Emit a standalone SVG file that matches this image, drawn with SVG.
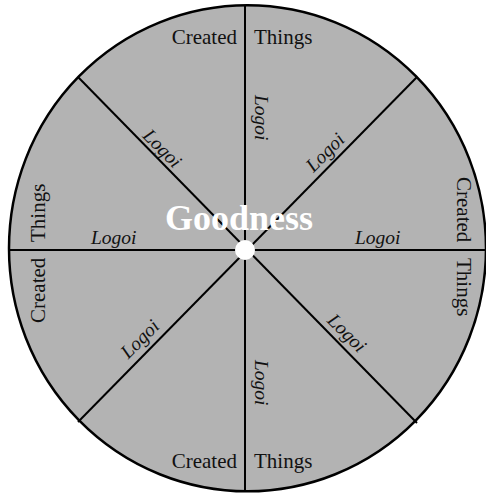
<svg xmlns="http://www.w3.org/2000/svg" width="486" height="493" viewBox="0 0 486 493">
<style>
.ct{font-family:"Liberation Serif",serif;font-size:21px;fill:#111}
.lg{font-family:"Liberation Serif",serif;font-size:19.5px;font-style:italic;fill:#111}
.gd{font-family:"Liberation Serif",serif;font-size:36px;font-weight:bold;fill:#fff}
.ln{stroke:#000;stroke-width:2;fill:none}
</style>
<rect width="486" height="493" fill="#fff"/>
<g id="disc">
<ellipse cx="247.5" cy="248.3" rx="238.5" ry="243" fill="#b3b3b3" stroke="#000" stroke-width="2.5"/>
</g>
<g id="connectors">
<line class="ln" x1="245" y1="5" x2="245" y2="492"/>
<line class="ln" x1="9" y1="250" x2="486" y2="250"/>
<line class="ln" x1="78" y1="77" x2="417" y2="423"/>
<line class="ln" x1="417" y1="77" x2="78" y2="422"/>
</g>
<g id="created-top"><text class="ct" x="237" y="44" text-anchor="end">Created</text><text class="ct" x="254" y="44">Things</text></g>
<g id="created-bottom"><text class="ct" x="237" y="468" text-anchor="end">Created</text><text class="ct" x="254" y="468">Things</text></g>
<g id="created-left" transform="translate(45,250) rotate(-90)"><text class="ct" x="-73" y="0">Created</text><text class="ct" x="8" y="0">Things</text></g>
<g id="created-right" transform="translate(457,250) rotate(90)"><text class="ct" x="-73" y="0">Created</text><text class="ct" x="8" y="0">Things</text></g>
<g id="logoi-left"><text class="lg" x="91" y="244">Logoi</text></g>
<g id="logoi-right"><text class="lg" x="355" y="244">Logoi</text></g>
<g id="logoi-top" transform="translate(245,250) rotate(90)"><text class="lg" x="-155" y="-10">Logoi</text></g>
<g id="logoi-bottom" transform="translate(245,250) rotate(90)"><text class="lg" x="110" y="-10">Logoi</text></g>
<g id="logoi-ul" transform="translate(245,250) rotate(45)"><text class="lg" x="-153" y="-7">Logoi</text></g>
<g id="logoi-lr" transform="translate(245,250) rotate(45)"><text class="lg" x="108" y="-7">Logoi</text></g>
<g id="logoi-ur" transform="translate(245,250) rotate(-45)"><text class="lg" x="103" y="-6">Logoi</text></g>
<g id="logoi-ll" transform="translate(245,250) rotate(-45)"><text class="lg" x="-160" y="-5">Logoi</text></g>
<g id="goodness"><text class="gd" x="239" y="230" text-anchor="middle">Goodness</text></g>
<g id="center-dot"><circle cx="245" cy="250" r="10" fill="#fff"/></g>
</svg>
